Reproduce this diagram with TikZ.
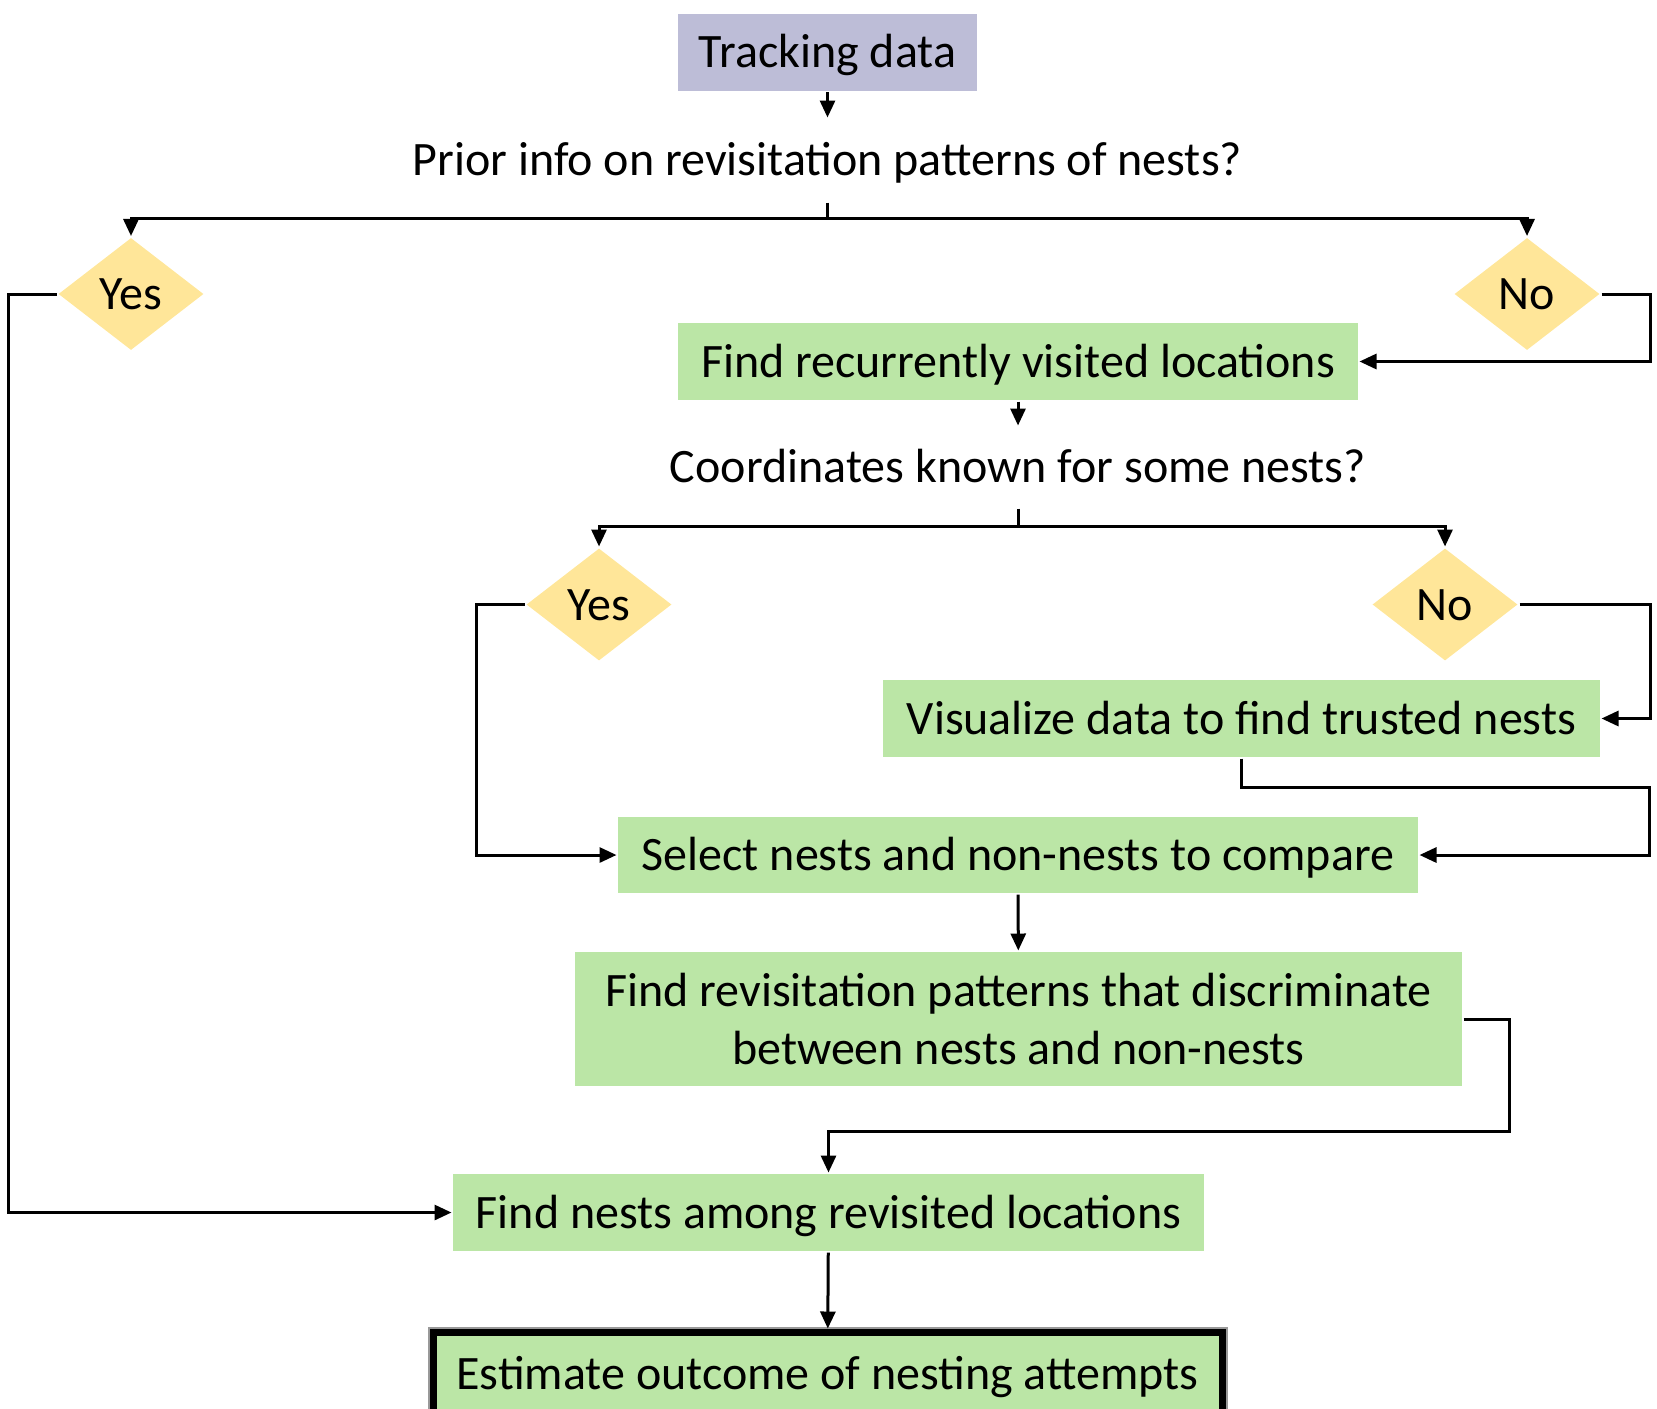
\documentclass[tikz,border=0pt]{standalone}
\usepackage{fontspec}
\setmainfont{Carlito}
\usetikzlibrary{shapes.geometric,arrows.meta}

\definecolor{trackblue}{RGB}{189,189,215}
\definecolor{stepgreen}{RGB}{187,230,166}
\definecolor{choiceyellow}{RGB}{255,230,153}

\begin{document}
\begin{tikzpicture}[
                    x=0.5pt, y=-0.5pt,
                    line width=1.5pt,
                    every node/.style={
                        inner sep=0pt,
                        text height=20pt,
                        text depth=4.5pt,
                        font=\fontsize{24}{29}\selectfont
                    },
                    box/.style={
                        rectangle,
                        fill=stepgreen,
                        minimum height=38.5pt,
                        align=center
                    },
                    decide/.style={
                        diamond,
                        fill=choiceyellow,
                        minimum width=73pt,
                        minimum height=56.5pt
                    },
                    question/.style={
                        minimum height=41pt
                    },
                    arr/.style={
                        -{Triangle[length=8.5pt,width=7.5pt]}
                    }
                ]
                    \useasboundingbox (0,0) rectangle (1657,1408);

                    \node[box, fill=trackblue, minimum width=149.5pt] (track) at (827.5,52) {Tracking data};
                    \node[question] (q1) at (827.5,160) {Prior info on revisitation patterns of nests?};
                    \node[decide] (yes1) at (131,294) {Yes};
                    \node[decide] (no1) at (1527,294) {No};
                    \node[box, minimum width=340pt] (recur) at (1018,361.5) {Find recurrently visited locations};
                    \node[question, minimum height=40pt] (q2) at (1018,467) {Coordinates known for some nests?};
                    \node[decide] (yes2) at (599,604.5) {Yes};
                    \node[decide] (no2) at (1445,604.5) {No};
                    \node[box, minimum width=358.5pt] (visual) at (1241.5,718.5) {Visualize data to find trusted nests};
                    \node[box, minimum width=400pt, minimum height=38pt] (select) at (1018,855) {Select nests and non-nests to compare};
                    \node[box, minimum width=443.5pt, minimum height=67pt, text height=52pt, text depth=6.5pt] (discrim) at (1018.5,1019) {Find revisitation patterns that discriminate\\ between nests and non-nests};
                    \node[box, minimum width=375.5pt] (among) at (828.5,1212.5) {Find nests among revisited locations};
                    \node[box, minimum width=394.5pt, minimum height=42pt, draw=black, line width=3.5pt,
                          preaction={draw=black!40, line width=5.5pt}] (estim) at (827.5,1374) {Estimate outcome of nesting attempts};

                    % Turning points
                    \coordinate (split1) at (827.5,218);
                    \coordinate (split2) at (1018,526);
                    \coordinate (vturn) at (1649,787);
                    \coordinate (dturn) at (1509,1131);

                    % Edges
                    \draw[arr] (track) -- (q1);
                    \draw (q1) -- (split1);
                    \draw[arr] (split1) -| (yes1);
                    \draw[arr] (split1) -| (no1);
                    \draw[arr] (yes1.west) -- ++(-48,0) |- (among.west);
                    \draw[arr] (no1.east) -- ++(49,0) |- (recur.east);
                    \draw[arr] (recur) -- (q2);
                    \draw (q2) -- (split2);
                    \draw[arr] (split2) -| (yes2);
                    \draw[arr] (split2) -| (no2);
                    \draw[arr] (yes2.west) -- ++(-48,0) |- (select.west);
                    \draw[arr] (no2.east) -- ++(131,0) |- (visual.east);
                    \draw[arr] (visual.south) |- (vturn) |- (select.east);
                    \draw[arr] (select) -- (discrim);
                    \draw[arr] (discrim.east) -| (dturn) -| (among.north);
                    \draw[arr] (among) -- (estim);
                \end{tikzpicture}
\end{document}
